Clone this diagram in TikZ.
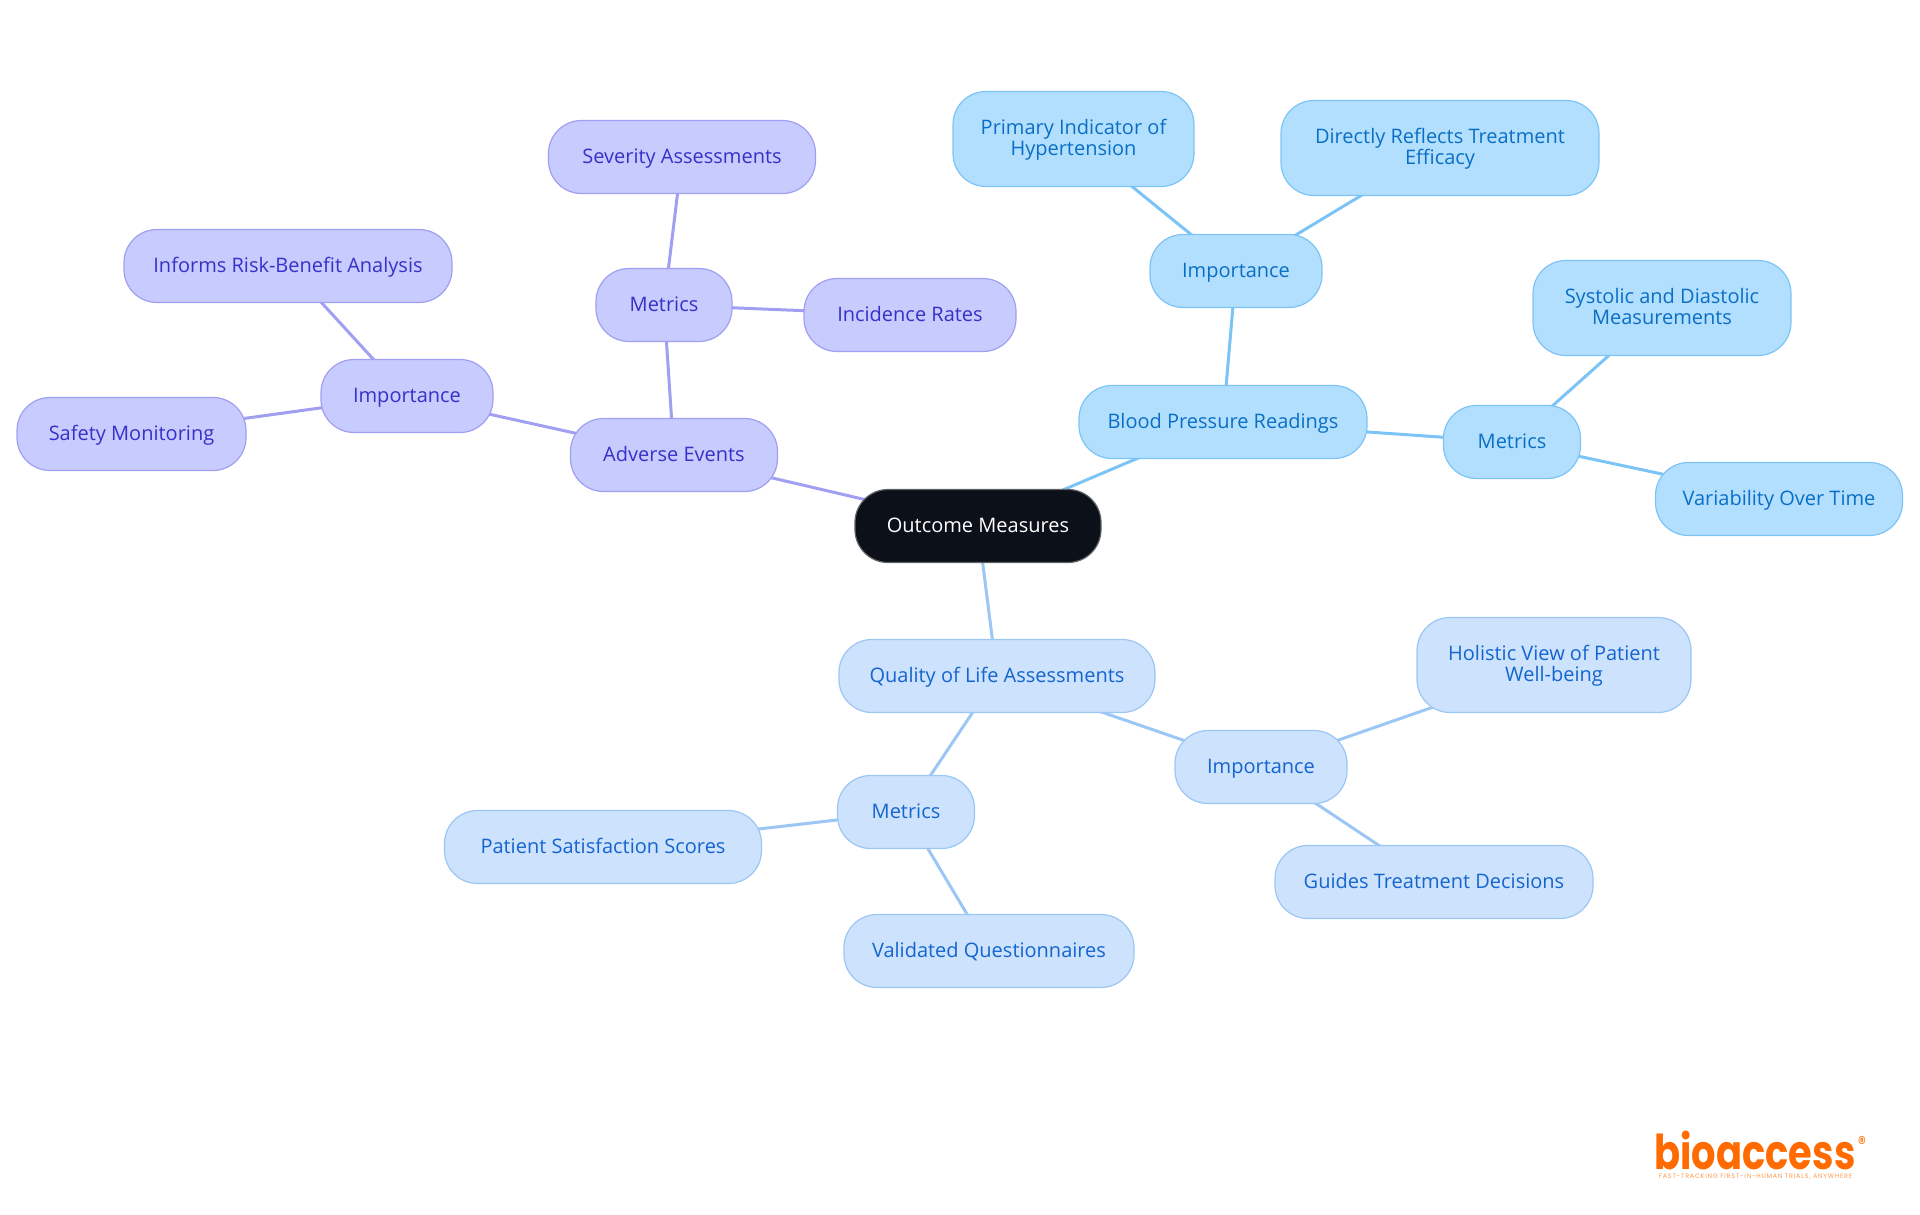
\documentclass[tikz,border=0pt]{standalone}
\usepackage{fontspec}
\setmainfont{Open Sans}
\newfontfamily\logofont[FakeStretch=0.8]{Poppins}
\newfontfamily\tagfont[LetterSpace=12]{Poppins}
\usetikzlibrary{backgrounds}

\definecolor{rootfill}{HTML}{0B1019}
\definecolor{rootline}{HTML}{5F6369}
\definecolor{purplefill}{HTML}{C8CBFD}
\definecolor{purpleline}{HTML}{A09FF2}
\definecolor{purpletext}{HTML}{3631C8}
\definecolor{bluefill}{HTML}{B3DFFF}
\definecolor{blueline}{HTML}{7CC4F6}
\definecolor{bluetext}{HTML}{0A6FC4}
\definecolor{lightfill}{HTML}{CDE2FC}
\definecolor{lightline}{HTML}{9CC6F3}
\definecolor{lighttext}{HTML}{1565CF}
\definecolor{logoorange}{HTML}{FF6B00}

\tikzset{
	box/.style={rounded corners=33pt, line width=1.2pt, minimum height=73pt, inner sep=0pt,
		align=center, text height=16pt, text depth=3.6pt, font=\fontsize{20}{21}\selectfont},
	twolines/.style={minimum height=95pt, text height=36pt, text depth=4pt},
	rootbox/.style={box, draw=rootline, fill=rootfill, text=white},
	purplebox/.style={box, draw=purpleline, fill=purplefill, text=purpletext},
	bluebox/.style={box, draw=blueline, fill=bluefill, text=bluetext},
	lightbox/.style={box, draw=lightline, fill=lightfill, text=lighttext},
	purpleedge/.style={draw=purpleline, line width=3pt},
	blueedge/.style={draw=blueline, line width=3pt},
	lightedge/.style={draw=lightline, line width=3pt}
}

\begin{document}
\begin{tikzpicture}[x=1pt,y=-1pt]
	\useasboundingbox (0,0) rectangle (1920,1215);
	\node[rootbox, minimum width=246pt] (root) at (978,526) {Outcome Measures};

	% adverse events
	\node[purplebox, minimum width=207pt] (adverse) at (674,455) {Adverse Events};
	\node[purplebox, minimum width=136pt] (advmetrics) at (664,305) {Metrics};
	\node[purplebox, minimum width=267pt] (severity) at (682,157) {Severity Assessments};
	\node[purplebox, minimum width=212pt] (incidence) at (910,315) {Incidence Rates};
	\node[purplebox, minimum width=172pt] (advimportance) at (407,396) {Importance};
	\node[purplebox, minimum width=328pt] (informs) at (288,266) {Informs Risk-Benefit Analysis};
	\node[purplebox, minimum width=229pt] (safety) at (131.5,434) {Safety Monitoring};

	% blood pressure
	\node[bluebox, minimum width=288pt] (blood) at (1223,422) {Blood Pressure Readings};
	\node[bluebox, minimum width=172pt] (bpimportance) at (1236,271) {Importance};
	\node[bluebox, twolines, minimum width=241pt] (primary) at (1073.5,139) {Primary Indicator of\\Hypertension};
	\node[bluebox, twolines, minimum width=318pt] (directly) at (1440,148) {Directly Reflects Treatment\\Efficacy};
	\node[bluebox, minimum width=137pt] (bpmetrics) at (1512,442) {Metrics};
	\node[bluebox, twolines, minimum width=258pt] (systolic) at (1662,308) {Systolic and Diastolic\\Measurements};
	\node[bluebox, minimum width=247pt] (variability) at (1779,499) {Variability Over Time};

	% quality of life
	\node[lightbox, minimum width=316pt] (quality) at (997,676) {Quality of Life Assessments};
	\node[lightbox, minimum width=172pt] (qolimportance) at (1261,767) {Importance};
	\node[lightbox, twolines, minimum width=274pt] (holistic) at (1554,665) {Holistic View of Patient\\Well-being};
	\node[lightbox, minimum width=318pt] (guides) at (1434,882) {Guides Treatment Decisions};
	\node[lightbox, minimum width=137pt] (qolmetrics) at (906,812) {Metrics};
	\node[lightbox, minimum width=317pt] (patient) at (603,847) {Patient Satisfaction Scores};
	\node[lightbox, minimum width=290pt] (validated) at (989,951) {Validated Questionnaires};

	\begin{scope}[on background layer]
		\draw[purpleedge] (root.center) -- (adverse.center);
		\draw[purpleedge] (adverse.center) -- (advmetrics.center);
		\draw[purpleedge] (advmetrics.center) -- (severity.center);
		\draw[purpleedge] (advmetrics.center) -- (incidence.center);
		\draw[purpleedge] (adverse.center) -- (advimportance.center);
		\draw[purpleedge] (advimportance.center) -- (informs.center);
		\draw[purpleedge] (advimportance.center) -- (safety.center);
		\draw[blueedge] (root.center) -- (blood.center);
		\draw[blueedge] (blood.center) -- (bpimportance.center);
		\draw[blueedge] (bpimportance.center) -- (primary.center);
		\draw[blueedge] (bpimportance.center) -- (directly.center);
		\draw[blueedge] (blood.center) -- (bpmetrics.center);
		\draw[blueedge] (bpmetrics.center) -- (systolic.center);
		\draw[blueedge] (bpmetrics.center) -- (variability.center);
		\draw[lightedge] (root.center) -- (quality.center);
		\draw[lightedge] (quality.center) -- (qolimportance.center);
		\draw[lightedge] (qolimportance.center) -- (holistic.center);
		\draw[lightedge] (qolimportance.center) -- (guides.center);
		\draw[lightedge] (quality.center) -- (qolmetrics.center);
		\draw[lightedge] (qolmetrics.center) -- (patient.center);
		\draw[lightedge] (qolmetrics.center) -- (validated.center);
	\end{scope}

	% logo
	\node[font=\logofont\bfseries\fontsize{48}{48}\selectfont, text=logoorange, inner sep=0pt] (logo) at (1755,1150) {bioaccess};
	\node[font=\logofont\fontsize{20}{20}\selectfont, text=logoorange, inner sep=0pt] (logomark) at (1862,1143) {®};
	\node[font=\tagfont\fontsize{6.4}{6.4}\selectfont, text=logoorange!70, inner sep=0pt] (logotag) at (1755.5,1177) {FAST-TRACKING FIRST-IN-HUMAN TRIALS, ANYWHERE};
\end{tikzpicture}
\end{document}
